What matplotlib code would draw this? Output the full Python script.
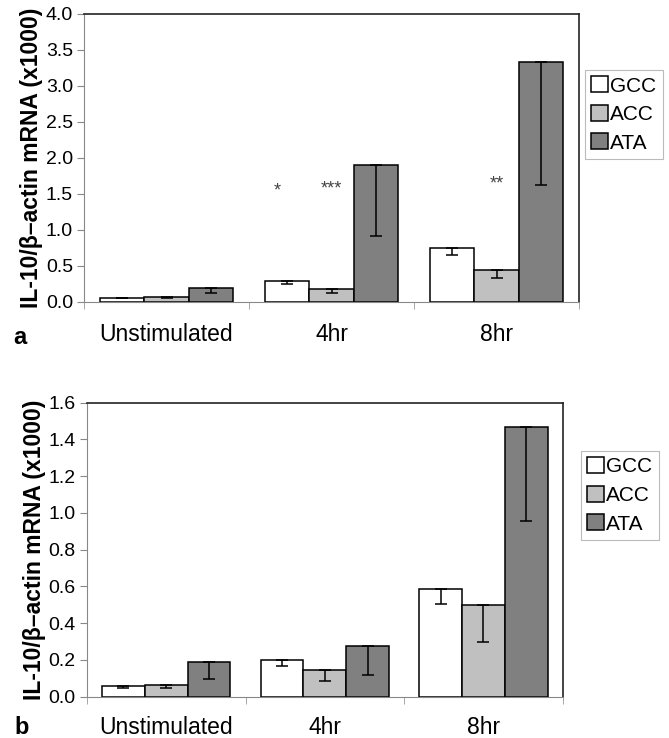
import numpy as np
import matplotlib
matplotlib.use("Agg")
import matplotlib.pyplot as plt
from matplotlib.ticker import MultipleLocator, FixedLocator

plt.rcParams['font.family'] = ['Liberation Sans', 'DejaVu Sans']

# Data
categories = ["Unstimulated", "4hr", "8hr"]
groups = ["GCC", "ACC", "ATA"]

# panel a
a_means = {"GCC": [0.06, 0.29, 0.745],
           "ACC": [0.07, 0.18, 0.45],
           "ATA": [0.19, 1.90, 3.33]}
a_lower = {"GCC": [0.01, 0.045, 0.095],
           "ACC": [0.01, 0.06, 0.12],
           "ATA": [0.07, 0.98, 1.71]}
a_stars = [("*", 0.67, 1.54), ("***", 1.0, 1.57), ("**", 2.0, 1.63)]

# panel b
b_means = {"GCC": [0.058, 0.198, 0.586],
           "ACC": [0.064, 0.144, 0.497],
           "ATA": [0.187, 0.276, 1.47]}
b_lower = {"GCC": [0.009, 0.029, 0.083],
           "ACC": [0.018, 0.059, 0.199],
           "ATA": [0.091, 0.156, 0.515]}

colors = {"GCC": "white", "ACC": "#c0c0c0", "ATA": "#808080"}
bar_w = 0.27
offsets = [-bar_w, 0, bar_w]

fig = plt.figure(figsize=(6.69, 7.38), dpi=100)
ax_a = fig.add_axes([0.1256, 0.5908, 0.7399, 0.3909])
ax_b = fig.add_axes([0.130, 0.056, 0.711, 0.3983])


def draw_panel(ax, means, lower, ymax, ystep, labpad):
    x = np.arange(len(categories))
    for k, g in enumerate(groups):
        ax.bar(x + offsets[k], means[g], width=bar_w, color=colors[g],
               edgecolor="black", linewidth=1.1, label=g, zorder=2)
        ax.errorbar(x + offsets[k], means[g],
                    yerr=[lower[g], np.zeros(len(categories))],
                    fmt="none", ecolor="black", elinewidth=1.1, capsize=4,
                    capthick=1.1, zorder=3)
    ax.set_xlim(-0.5, 2.5)
    ax.set_ylim(0, ymax)
    ax.yaxis.set_major_locator(MultipleLocator(ystep))
    ax.yaxis.set_major_formatter(plt.FormatStrFormatter("%.1f"))
    ax.set_xticks(x)
    ax.set_xticklabels(categories, fontsize=16.5)
    ax.xaxis.set_minor_locator(FixedLocator([-0.5, 0.5, 1.5, 2.5]))
    ax.tick_params(axis="x", which="major", length=0, pad=labpad)
    ax.tick_params(axis="x", which="minor", length=5, color="#999999",
                   direction="out")
    ax.tick_params(axis="y", length=5, color="#888888", labelsize=14,
                   direction="out", pad=3)
    for s in ["left", "bottom"]:
        ax.spines[s].set_color("#888888")
    for s in ["top", "right"]:
        ax.spines[s].set_color("#222222")
        ax.spines[s].set_linewidth(1.2)
    ax.set_ylabel("IL-10/β–actin mRNA (x1000)", fontsize=16.5,
                  fontweight="bold", labelpad=2)


draw_panel(ax_a, a_means, a_lower, 4.0, 0.5, 15)
draw_panel(ax_b, b_means, b_lower, 1.6, 0.2, 14)

for txt, xs, ys in a_stars:
    ax_a.text(xs, ys, txt, ha="center", va="center", fontsize=13,
              color="#444444")

leg_kw = dict(fontsize=15, frameon=True, fancybox=False, edgecolor="#aaaaaa",
              handlelength=0.8, handleheight=0.8, handletextpad=0.12,
              borderpad=0.3, labelspacing=0.45, borderaxespad=0)
la = ax_a.legend(loc="upper left", bbox_to_anchor=(1.012, 0.804), **leg_kw)
lb = ax_b.legend(loc="upper left", bbox_to_anchor=(1.0385, 0.836), **leg_kw)
for lg in (la, lb):
    lg.get_frame().set_linewidth(0.8)

fig.text(0.030, 1 - 337 / 738, "a", fontsize=17, fontweight="bold",
         ha="center", va="center")
fig.text(0.033, 1 - 727 / 738, "b", fontsize=17, fontweight="bold",
         ha="center", va="center")

fig.savefig("out.png", dpi=100)
